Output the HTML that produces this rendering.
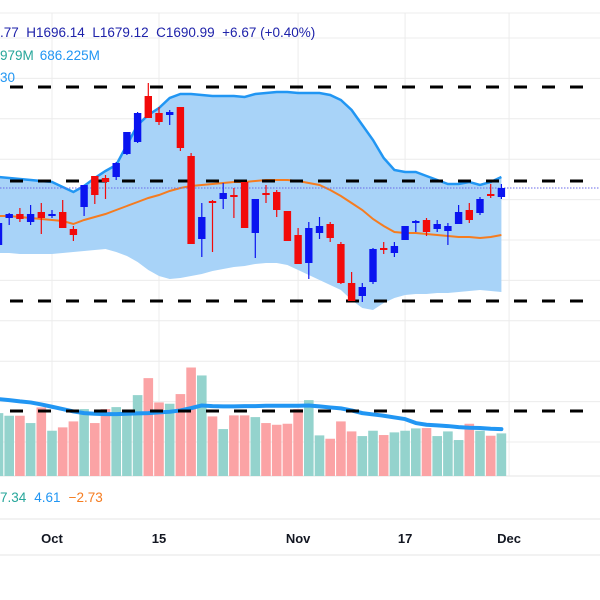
<!DOCTYPE html>
<html><head><meta charset="utf-8"><style>
html,body{margin:0;padding:0;background:#fff;}
svg{display:block;font-family:"Liberation Sans",sans-serif;}
</style></head><body>
<svg id="chart" width="600" height="600" viewBox="0 0 600 600">
<g id="grid"></g>
<g id="band"></g>
<g id="vol"></g>
<g id="dash"></g>
<g id="candles"></g>
<text x="0" y="37" font-size="13.5" fill="#1e22aa" xml:space="preserve">.77  H1696.14  L1679.12  C1690.99  +6.67 (+0.40%)</text>
<text x="0" y="60" font-size="13.5"><tspan fill="#26a69a">979M</tspan><tspan fill="#2196f3" dx="6">686.225M</tspan></text>
<text x="0" y="82" font-size="13.5" fill="#2196f3">30</text>
<text x="0" y="502" font-size="13.5"><tspan fill="#26a69a">7.34</tspan><tspan fill="#2196f3" dx="8">4.61</tspan><tspan fill="#f57c20" dx="8">−2.73</tspan></text>
<g id="xaxis"></g>
</svg>
<script>
const idx=[-5,-4,-3,-2,-1,0,1,2,3,4,5,6,7,8,9,10,11,12,13,14,15,16,17,18,19,20,21,22,23,24,25,26,27,28,29,30,31,32,33,34,35,36,37,38,39,40,41,42];
const opens=[1662.5,1676,1678,1674,1679,1677,1679,1670.5,1681.5,1697,1696,1696.5,1708,1714,1737,1728.5,1727.5,1731.5,1707,1665.5,1684.5,1685.5,1687.5,1694,1668.5,1688.5,1689,1679.5,1667.5,1653.5,1668.5,1673,1663,1643.5,1637,1644,1661,1658.5,1665,1673.5,1675,1670.5,1669.5,1673,1680,1678.5,1688,1686.5];
const highs=[1673.5,1678.5,1681,1682.5,1683.5,1680,1685,1672,1692.5,1697,1697.5,1704,1719,1729,1743.5,1731.5,1730,1731.5,1708.5,1683.5,1685,1693.5,1691,1694,1685.5,1692.5,1690,1679.5,1671,1674,1676.5,1674,1664,1649,1643.5,1661,1664,1664,1672,1675,1676,1675,1673.5,1682.5,1683.5,1686.5,1693,1693];
const lows=[1662.5,1672.5,1674,1672.5,1668,1676,1671,1664.5,1677,1683,1685.5,1695,1707.5,1713.5,1726,1722.5,1722.5,1709.5,1663,1656.5,1659,1680.5,1676,1671,1656,1683.5,1676.5,1664.5,1653,1645.5,1665.5,1664,1643,1634.5,1634,1643,1658,1656.5,1665,1669,1667,1669,1662.5,1673,1673.5,1677.5,1686,1685.5];
const closes=[1673.5,1678,1675.5,1678,1676,1678,1671,1667.5,1692.5,1687.5,1694,1703.5,1719,1728.5,1726,1724,1729,1711,1663,1676.5,1683.5,1688.5,1686.5,1671,1685.5,1687.5,1680,1664.5,1653,1671,1672,1666,1643.5,1634.5,1641.5,1660.5,1660,1662,1672,1674.5,1669,1673,1672,1679,1675,1685.5,1687,1691];
const bbUpper=[1696.5,1696,1695.5,1695,1694.5,1694,1691.5,1689,1692,1696,1699.5,1702.5,1712.5,1722.5,1727.5,1731,1736,1738,1738,1737.5,1737,1737,1737,1736.5,1738,1738.5,1739,1739,1738.5,1738.5,1738.5,1737.5,1735,1730,1722.5,1715,1706,1700,1699,1699,1697,1695,1693,1693,1694,1692.5,1694,1696.5];
const bbMiddle=[1677,1677,1676.5,1676,1675.5,1675,1674.5,1673,1675,1676.5,1678,1680,1682,1684,1686,1687.5,1689.5,1691,1692,1692.5,1693,1693.5,1694,1694,1694.5,1695,1695,1695,1694.5,1693.5,1692.5,1690,1687,1683.5,1680,1675.5,1672,1669,1668.5,1668.5,1668,1667.5,1667,1666.5,1666.5,1666,1666.5,1667.5];
const bbLower=[1658.5,1658.5,1658,1658,1658,1658,1658.5,1659,1659.5,1660,1660.5,1659,1657,1654,1650,1647,1645.5,1646,1647,1648,1649.5,1650.5,1651.5,1652,1653,1653.5,1653.5,1652.5,1650,1647.5,1645,1642.5,1640,1635,1631,1630,1633.5,1636,1637.5,1638,1638,1638.5,1638.5,1639,1639.5,1640,1639.5,1639];
const volumes=[918,880,880,773,1001,661,710,797,977,773,977,1006,967,1181,1429,1074,1055,1196,1584,1468,870,685,885,885,860,773,748,763,977,1108,593,544,797,651,583,661,598,637,661,695,700,583,651,525,763,661,588,622];
const volMA=[1123,1108,1089,1074,1045,1011,977,943,918,909,904,904,909,914,918,928,938,957,991,1030,1021,1016,1016,1021,1021,1025,1025,1025,1025,1030,1016,1001,987,957,918,899,880,855,831,773,748,739,729,714,705,700,690,685];
const priceLevels=[1741.5,1694.5,1634.5];
const volumeLevels=[949];
const lastClose=1691;
const xTickLabels=["Oct","15","Nov","17","Dec"];
const xTickIdx=[0,10,23,33,43];

const NS="http://www.w3.org/2000/svg";
function xS(i){return 52+i*10.7;}
function yS(p){return 188-(p-1691)*2;}
function vS(v){return 476-v/14.6;}
function mk(tag,attrs,parent){const e=document.createElementNS(NS,tag);for(const k in attrs)e.setAttribute(k,attrs[k]);parent.appendChild(e);return e;}
const grid=document.getElementById('grid');
for(let y=38;y<476;y+=40.4){const l=mk('line',{x1:0,x2:600,y1:y,y2:y,stroke:'#ececec','stroke-width':1},grid);

}
mk('line',{x1:0,x2:600,y1:13,y2:13,stroke:'#ececec'},grid);
mk('line',{x1:0,x2:600,y1:476,y2:476,stroke:'#e4e4e4'},grid);
mk('line',{x1:0,x2:600,y1:519,y2:519,stroke:'#e4e4e4'},grid);
mk('line',{x1:0,x2:600,y1:555,y2:555,stroke:'#e4e4e4'},grid);
const xa=document.getElementById('xaxis');
xTickIdx.forEach((ti,k)=>{const x=xS(ti)+(k===4?-3:0);
const l=mk('line',{x1:x,x2:x,y1:13,y2:476,stroke:'#ececec'},grid);


const t=mk('text',{x:x,y:543,'text-anchor':'middle','font-size':13,'font-weight':'bold',fill:'#131722'},xa);t.textContent=xTickLabels[k];

});
const band=document.getElementById('band');
let up=idx.map((i,k)=>xS(i)+','+yS(bbUpper[k]));let lo=idx.map((i,k)=>xS(i)+','+yS(bbLower[k])).reverse();
const fill=mk('polygon',{points:up.concat(lo).join(' '),fill:'#a8d3f8'},band);


const ul=mk('polyline',{points:up.join(' '),fill:'none',stroke:'#2196f3','stroke-width':2.5},band);


const ml=mk('polyline',{points:idx.map((i,k)=>xS(i)+','+yS(bbMiddle[k])).join(' '),fill:'none',stroke:'#f57c20','stroke-width':2},band);


const vol=document.getElementById('vol');
idx.forEach((i,k)=>{const upC=closes[k]>=opens[k];const y=vS(volumes[k]);
const r=mk('rect',{x:xS(i)-4.8,y:y,width:9.6,height:476-y,fill:upC?'#94d3cd':'#fba3a5'},vol);

});
const vm=mk('polyline',{points:idx.map((i,k)=>xS(i)+','+vS(volMA[k])).join(' '),fill:'none',stroke:'#2196f3','stroke-width':4,'stroke-linejoin':'round','stroke-linecap':'round'},vol);


const dash=document.getElementById('dash');
priceLevels.forEach(p=>{const l=mk('line',{x1:10,x2:588,y1:yS(p),y2:yS(p),stroke:'#000','stroke-width':3,'stroke-dasharray':'13 15'},dash);

});
volumeLevels.forEach(v=>{const l=mk('line',{x1:10,x2:588,y1:vS(v),y2:vS(v),stroke:'#000','stroke-width':3,'stroke-dasharray':'13 15'},dash);

});
const dl=mk('line',{x1:0,x2:600,y1:yS(lastClose),y2:yS(lastClose),stroke:'#6a6ae8','stroke-width':1,'stroke-dasharray':'1.5 1.5'},dash);


const cg=document.getElementById('candles');
idx.forEach((i,k)=>{const upC=closes[k]>=opens[k];const col=upC?'#0a14f0':'#f20a0a';const x=xS(i);
const w=mk('line',{x1:x,x2:x,y1:yS(highs[k]),y2:yS(lows[k]),stroke:col,'stroke-width':1.2},cg);


const t=yS(Math.max(opens[k],closes[k]));const b=yS(Math.min(opens[k],closes[k]));
const r=mk('rect',{x:x-3.7,y:t,width:7.4,height:Math.max(b-t,1.5),fill:col},cg);

});
</script>
</body></html>
